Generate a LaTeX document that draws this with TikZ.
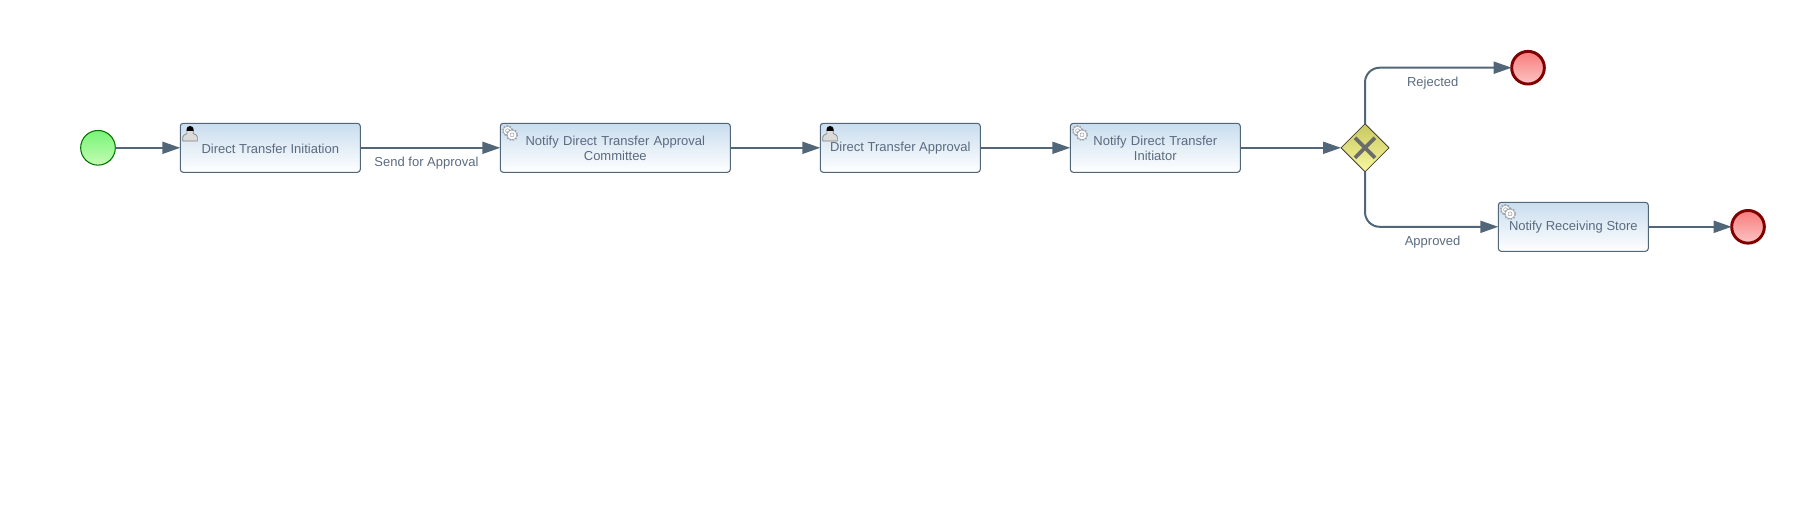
\documentclass[tikz,border=0pt]{standalone}
\usepackage{fontspec}
\setmainfont{Liberation Sans}
\usetikzlibrary{arrows.meta,shapes.geometric}
\definecolor{flowcol}{HTML}{526679}
\definecolor{textcol}{HTML}{5A6B80}
\definecolor{iconcol}{HTML}{9CA1A8}
\definecolor{tasktop}{HTML}{C9DDEE}
\definecolor{starttop}{HTML}{78F578}
\definecolor{startbot}{HTML}{C4FBB4}
\definecolor{endtop}{HTML}{F87C7C}
\definecolor{endbot}{HTML}{FCC4C4}
\definecolor{gatetop}{HTML}{C8C860}
\definecolor{gatebot}{HTML}{F8F8A0}
\newcommand{\tasktxt}[1]{\raisebox{-0.45pt}[\height][\depth]{#1}}

\begin{document}
\begin{tikzpicture}[x=0.75pt,y=-0.75pt,line join=round,
  task/.style={draw=flowcol,line width=0.8pt,rounded corners=2.2pt,minimum height=36.75pt,
    inner sep=0pt,outer sep=0pt,align=center,text=textcol,font=\fontsize{9.75}{11.25}\selectfont,
    top color=tasktop,bottom color=white,anchor=north west},
  startev/.style={circle,draw=green!45!black,line width=0.8pt,minimum size=26pt,inner sep=0pt,outer sep=0pt,
    top color=starttop,bottom color=startbot},
  endev/.style={circle,draw=red!50!black,line width=2.2pt,minimum size=24.5pt,inner sep=0pt,outer sep=0pt,
    top color=endtop,bottom color=endbot},
  gateway/.style={diamond,draw=black!70!olive,line width=0.6pt,minimum width=36pt,minimum height=36pt,aspect=1,
    inner sep=0pt,outer sep=0pt,top color=gatetop,bottom color=gatebot},
  flow/.style={draw=flowcol,line width=1.5pt,-{Triangle[length=13.5pt,width=9pt,fill=flowcol]}},
  flowlabel/.style={text=textcol,font=\fontsize{9.75}{11.25}\selectfont,inner sep=0pt}]
  \useasboundingbox (0,0) rectangle (1816,504);
  \node[startev] (start) at (98,147.8) {};
  \node[task,minimum width=135pt] (initiation) at (180.3,123.3) {\tasktxt{Direct Transfer Initiation}};
  \node[task,minimum width=172.5pt,text width=165pt] (committee) at (500.3,123.3) {\tasktxt{Notify Direct Transfer Approval}\\\tasktxt{Committee}};
  \node[task,minimum width=120pt] (approval) at (820.3,123.3) {\tasktxt{Direct Transfer Approval}};
  \node[task,minimum width=127.5pt,text width=120pt] (initiator) at (1070.3,123.3) {\tasktxt{Notify Direct Transfer}\\\tasktxt{Initiator}};
  \node[gateway] (gate) at (1365,147.8) {};
  \node[endev] (rejected) at (1528,67.7) {};
  \node[task,minimum width=112.5pt] (store) at (1498.3,202.3) {\tasktxt{Notify Receiving Store}};
  \node[endev] (finish) at (1748,226.8) {};
  \draw[line width=2.8pt,color=black!58] (1355,137.8) -- (1375,157.8);
  \draw[line width=2.8pt,color=black!58] (1375,137.8) -- (1355,157.8);
  \draw[flow] (start) -- (initiation);
  \draw[flow] (initiation) -- (committee);
  \draw[flow] (committee) -- (approval);
  \draw[flow] (approval) -- (initiator);
  \draw[flow] (initiator) -- (gate);
  \draw[flow,rounded corners=11pt] (gate.north) |- (rejected.west);
  \draw[flow,rounded corners=11pt] (gate.south) |- (store.west);
  \draw[flow] (store) -- (finish);
  \node[flowlabel] (sendlabel) at (426.5,163) {Send for Approval};
  \node[flowlabel] (rejectlabel) at (1432.7,82.7) {Rejected};
  \node[flowlabel] (approvelabel) at (1432.6,241.7) {Approved};
  % user icons
  \foreach \ux/\uy in {182.5/126,822.5/126}
  {
    \begin{scope}[shift={(\ux,\uy)}]
      \draw[draw=black!50,fill=black!14,line width=0.5pt] (0.3,15) -- (0.3,11) .. controls (0.3,9) and (2.5,8.6) .. (4.4,7.6)
        -- (4.4,4) -- (10.8,4) -- (10.8,7.6) .. controls (12.7,8.6) and (14.9,9) .. (14.9,11) -- (14.9,15) -- cycle;
      \fill[black] (4,4.8) .. controls (4,1) and (5.8,0) .. (7.6,0) .. controls (9.4,0) and (11.2,1) .. (11.2,4.8) -- cycle;
    \end{scope}
  }
  % gear icons
  \foreach \gx/\gy in {502.5/125.7,1072.5/125.7,1500.5/204.7}
  {
    \begin{scope}[shift={(\gx,\gy)}]
      \foreach \cx/\cy/\cr in {5/5/4.4,9.5/9.2/4.9}
      {
        \draw[draw=iconcol,fill=white,line width=0.4pt] (\cx,\cy) circle (\cr);
        \draw[draw=iconcol,line width=0.9pt,dash pattern=on 1.2pt off 1.2pt] (\cx,\cy) circle ({\cr+0.7});
        \draw[draw=iconcol,line width=0.4pt] (\cx,\cy) circle (2);
      }
    \end{scope}
  }
\end{tikzpicture}
\end{document}
